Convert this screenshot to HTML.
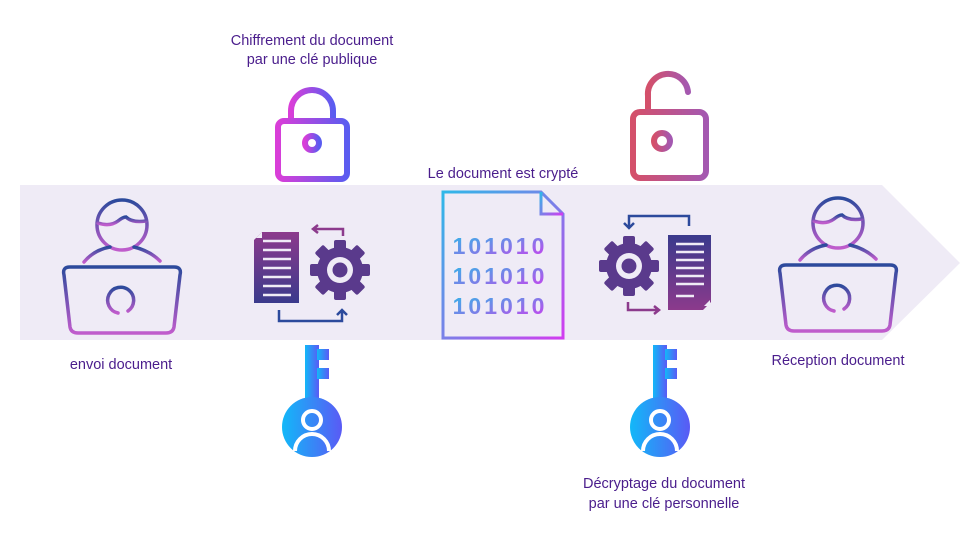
<!DOCTYPE html>
<html><head><meta charset="utf-8"><style>
html,body{margin:0;padding:0;background:#fff;width:960px;height:540px;overflow:hidden}
text{font-family:"Liberation Sans",sans-serif;font-size:14.5px;fill:#4a1d8c}
</style></head><body>
<svg width="960" height="540" viewBox="0 0 960 540" xmlns="http://www.w3.org/2000/svg">
<defs>
<linearGradient id="pv" x1="0" y1="0" x2="0" y2="1"><stop offset="0" stop-color="#2c4a9c"/><stop offset="1" stop-color="#c05ccc"/></linearGradient>
<linearGradient id="lk" x1="0" y1="0" x2="1" y2="0"><stop offset="0" stop-color="#d93ed8"/><stop offset="1" stop-color="#5a5cf0"/></linearGradient>
<linearGradient id="ul" x1="0" y1="0" x2="1" y2="0"><stop offset="0" stop-color="#d4506a"/><stop offset="1" stop-color="#a458b0"/></linearGradient>
<linearGradient id="key" x1="0" y1="0" x2="1" y2="0"><stop offset="0" stop-color="#12b8f8"/><stop offset="1" stop-color="#5a5af5"/></linearGradient>
<linearGradient id="dc" x1="0" y1="0" x2="1" y2="1"><stop offset="0" stop-color="#2fb8e8"/><stop offset="0.5" stop-color="#7a80e8"/><stop offset="1" stop-color="#d23cf0"/></linearGradient>
<linearGradient id="dg" x1="0" y1="0" x2="0" y2="1"><stop offset="0" stop-color="#8c3a8c"/><stop offset="1" stop-color="#3a3a8c"/></linearGradient>
<linearGradient id="dg2" x1="0" y1="0" x2="0" y2="1"><stop offset="0" stop-color="#3a3a8c"/><stop offset="1" stop-color="#8c3a8c"/></linearGradient>
<g id="gear">
<g fill="#5a3a8c">
<rect x="-6" y="-30" width="12" height="60" rx="2"/>
<rect x="-6" y="-30" width="12" height="60" rx="2" transform="rotate(45)"/>
<rect x="-6" y="-30" width="12" height="60" rx="2" transform="rotate(90)"/>
<rect x="-6" y="-30" width="12" height="60" rx="2" transform="rotate(135)"/>
<circle r="23"/></g>
<circle r="13" fill="#efebf6"/><circle r="7.5" fill="#5a3a8c"/>
</g>
<g id="keyi">
<rect x="-7" y="0" width="14" height="70" fill="url(#key)"/>
<rect x="5" y="4" width="12" height="11" fill="url(#key)"/>
<rect x="5" y="23" width="12" height="11" fill="url(#key)"/>
<circle cx="0" cy="82" r="30" fill="url(#key)"/>
<circle cx="0" cy="75" r="9" fill="none" stroke="#fff" stroke-width="4"/>
<path d="M-17 106 a17 17 0 0 1 34 0" fill="none" stroke="#fff" stroke-width="4"/>
</g>
<g id="person" fill="none" stroke="url(#pv)" stroke-width="3.5" stroke-linecap="round">
<circle cx="0" cy="-40" r="25"/>
<path d="M-24 -42 q12 4 20 -2 q5 -4 8 -4 q6 6 20 4"/>
<path d="M-38 -3 q10 -12 26 -15"/>
<path d="M12 -18 q16 4 26 14"/>
<path d="M-52 2 h104 q8 0 6 8 l-6 52 q-1 6 -8 6 h-88 q-7 0 -8 -6 l-6 -52 q-2 -8 6 -8z"/>
<path d="M-4 48 a13 13 0 1 1 10 -2"/>
</g>
</defs>
<polygon points="20,185 882,185 960,263 882,340 20,340" fill="#efebf6"/>

<text x="312" y="45" text-anchor="middle">Chiffrement du document</text>
<text x="312" y="64" text-anchor="middle">par une clé publique</text>
<text x="503" y="178" text-anchor="middle">Le document est crypté</text>
<text x="121" y="369" text-anchor="middle">envoi document</text>
<text x="838" y="365" text-anchor="middle">Réception document</text>
<text x="664" y="488" text-anchor="middle">Décryptage du document</text>
<text x="664" y="508" text-anchor="middle">par une clé personnelle</text>

<use href="#person" x="122" y="265"/>
<use href="#person" x="838" y="263"/>

<!-- closed lock -->
<g fill="none" stroke="url(#lk)" stroke-width="6" stroke-linecap="round">
<path d="M291 120 v-9 a21 21 0 0 1 42 0 v9"/>
<rect x="278" y="121" width="69" height="58" rx="6"/>
<circle cx="312" cy="143" r="7"/><path d="M312 150 v12"/>
</g>
<!-- open lock -->
<g fill="none" stroke="url(#ul)" stroke-width="6" stroke-linecap="round">
<path d="M648 110 v-14 a20 20 0 0 1 40 -4"/>
<rect x="633" y="112" width="73" height="66" rx="7"/>
<circle cx="662" cy="141" r="8"/><path d="M662 149 v9"/>
</g>

<!-- left doc+gear -->
<path d="M262 232 h37 v71 h-45 v-63z" fill="url(#dg)"/>
<path d="M256 238 l6 -6 v6z" fill="#efebf6"/>
<g stroke="#efebf6" stroke-width="2.5"><path d="M263 241h28M263 250h28M263 259h28M263 268h28M263 277h28M263 286h28M263 295h28"/></g>
<use href="#gear" x="340" y="270"/>
<path d="M343 236 v-7 h-30 M318 225 l-5 4 5 4" fill="none" stroke="#8c3a8c" stroke-width="2.5"/>
<path d="M279 310 v11 h63 v-10 M337 315 l5 -5 5 5" fill="none" stroke="#2c4a9c" stroke-width="2.5"/>

<!-- right gear+doc -->
<use href="#gear" x="629" y="266"/>
<path d="M668 235 h43 v67 l-8 8 h-35z" fill="url(#dg2)"/>
<g stroke="#efebf6" stroke-width="2.5"><path d="M676 244h28M676 252h28M676 260h28M676 268h28M676 276h28M676 284h28M676 296h18"/></g>
<path d="M704 306 l6 -6 v6z" fill="#efebf6"/>
<path d="M689 226 v-10 h-60 v12 M624 223 l5 5 5 -5" fill="none" stroke="#2c4a9c" stroke-width="2.5"/>
<path d="M628 302 v8 h30 M654 306 l5 4 -5 4" fill="none" stroke="#8c3a8c" stroke-width="2.5"/>

<!-- encrypted doc -->
<path d="M443 192 h98 l22 22 v124 h-120z" fill="none" stroke="url(#dc)" stroke-width="3"/>
<path d="M541 192 v22 h22" fill="none" stroke="url(#dc)" stroke-width="3"/>
<text x="500" y="254" text-anchor="middle" style="font-size:23px;font-weight:bold;fill:url(#dc);letter-spacing:3px">101010</text>
<text x="500" y="284" text-anchor="middle" style="font-size:23px;font-weight:bold;fill:url(#dc);letter-spacing:3px">101010</text>
<text x="500" y="314" text-anchor="middle" style="font-size:23px;font-weight:bold;fill:url(#dc);letter-spacing:3px">101010</text>

<use href="#keyi" x="312" y="345"/>
<use href="#keyi" x="660" y="345"/>
</svg>
</body></html>
